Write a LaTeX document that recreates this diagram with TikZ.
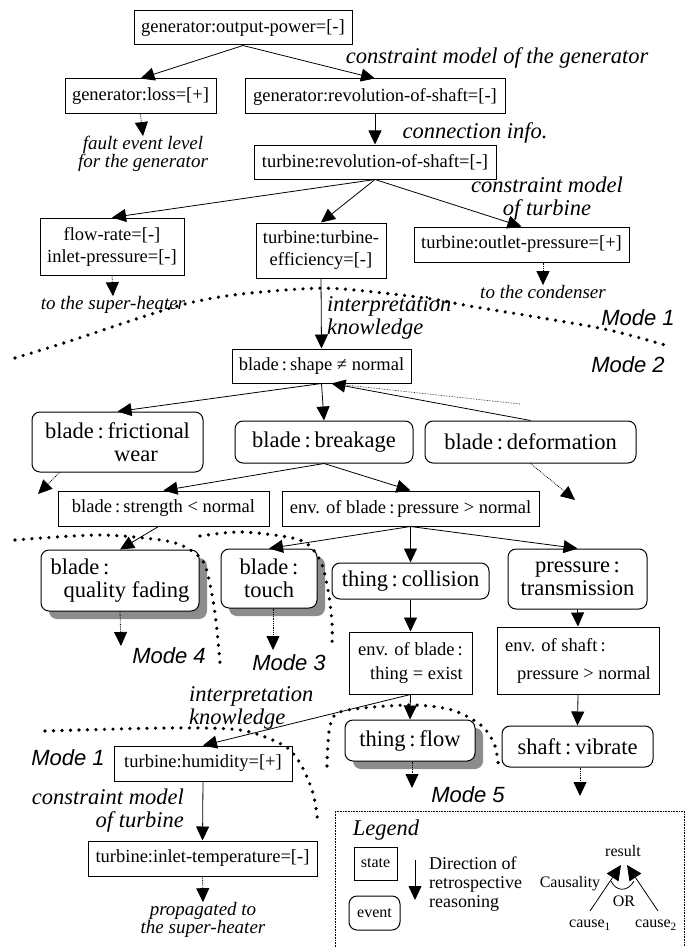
\documentclass[tikz,border=0pt]{standalone}
\usepackage{fontspec}
\setmainfont{Liberation Serif}
\newfontfamily\arialfont{Liberation Sans}
\usetikzlibrary{arrows.meta,shadows}

\newcommand{\statefont}{\fontsize{18.5}{22}\selectfont}
\newcommand{\eventfont}{\fontsize{22.5}{23}\selectfont}
\newcommand{\notefont}{\fontsize{19}{18}\selectfont\itshape}
\newcommand{\bignotefont}{\fontsize{22.5}{23}\selectfont\itshape}
\newcommand{\modefont}{\arialfont\itshape\fontsize{22}{24}\selectfont}
\newcommand{\legfont}{\fontsize{16}{18}\selectfont}

\tikzset{
  statebox/.style={draw, line width=1pt, fill=white, inner sep=0pt, align=center, font=\statefont},
  eventbox/.style={statebox, rounded corners=8pt, font=\eventfont},
  wh/.style 2 args={minimum width=#1pt, minimum height=#2pt},
  shadowed/.style={drop shadow={shadow xshift=8pt, shadow yshift=-8pt, fill=black!45, opacity=1}},
  reason/.style={-{Triangle[length=14pt,width=13pt]}, line width=0.8pt},
  hint/.style={reason, densely dotted},
  note/.style={font=\notefont, align=center, inner sep=0pt},
  bignote/.style={font=\bignotefont, align=center, inner sep=0pt},
  modelabel/.style={font=\modefont, inner sep=0pt},
  boundary/.style={line width=3.6pt, line cap=round, dash pattern=on 0pt off 8.5pt},
}

\begin{document}
\begin{tikzpicture}[x=1pt,y=-1pt]
  \useasboundingbox (0,0) rectangle (685,947);

  % generator and turbine states
  \node[statebox, wh={218}{34}] (genout) at (243,28) {generator:output-power=[-]};
  \node[statebox, wh={151}{35}] (genloss) at (140.5,96.5) {generator:loss=[+]};
  \node[statebox, wh={260}{35}] (genrev) at (375,96.5) {generator:revolution-of-shaft=[-]};
  \node[statebox, wh={242}{34}] (turbrev) at (375,162) {turbine:revolution-of-shaft=[-]};
  \node[statebox, wh={144}{57}] (flow) at (112,246.5) {flow-rate=[-]\\inlet-pressure=[-]};
  \node[statebox, wh={130}{55}] (turbeff) at (321,250.5) {turbine:turbine-\\efficiency=[-]};
  \node[statebox, wh={215}{35}] (outlet) at (521.5,244.5) {turbine:outlet-pressure=[+]};
  \node[statebox, wh={179}{34}] (bladeshape) at (321.5,366) {blade\,:\,shape ≠ normal};

  % blade events
  \node[eventbox, wh={171}{60}, align=left] (wear) at (117.5,442) {blade\,:\,frictional\\\hspace*{69pt}wear};
  \node[eventbox, wh={178}{42}] (breakage) at (324,442) {blade\,:\,breakage};
  \node[eventbox, wh={211}{42}] (deformation) at (530.5,442) {blade\,:\,deformation};
  \node[statebox, wh={211}{35}] (strength) at (163.5,508.5) {blade\,:\,strength < normal};
  \node[statebox, wh={257}{35}] (envpress) at (410.5,508.5) {env. of blade\,:\,pressure > normal};
  \node[eventbox, shadowed, wh={158}{61}, align=left] (quality) at (120,580.5) {blade\,:\\\hspace*{13pt}quality fading};
  \node[eventbox, shadowed, wh={96}{59}] (touch) at (269,578.5) {blade\,:\\touch};
  \node[eventbox, wh={157}{36}] (collision) at (410.5,581) {thing\,:\,collision};
  \node[eventbox, wh={139}{60}] (transmission) at (577.5,579) {pressure\,:\\transmission};
  \node[statebox, wh={123}{62}, align=right] (envthing) at (410.5,663) {env. of blade\,:\\[2pt]thing = exist};
  \node[statebox, wh={162}{67}, align=left] (envshaft) at (578,660.5) {env. of shaft\,:\\[6pt]\hspace*{12pt}pressure > normal};
  \node[eventbox, shadowed, wh={130}{41}] (thingflow) at (410,740.5) {thing\,:\,flow};
  \node[eventbox, wh={151}{41}] (vibrate) at (577.5,746.5) {shaft\,:\,vibrate};
  \node[statebox, wh={178}{35}] (humidity) at (203,763.5) {turbine:humidity=[+]};
  \node[statebox, wh={229}{35}] (inlettemp) at (202.5,858.5) {turbine:inlet-temperature=[-]};

  % annotations
  \node[bignote] (genmodel) at (497,58) {constraint model of the generator};
  \node[note] (faultnote) at (143,154) {fault event level\\for the generator};
  \node[bignote] (conninfo) at (475,133) {connection info.};
  \node[bignote] (turbmodel) at (547,199) {constraint model\\of turbine};
  \node[note] (heaternote) at (113,305) {to the super-heater};
  \node[note] (condensernote) at (543,292) {to the condenser};
  \node[bignote, align=left, anchor=west] (interp) at (327,318) {interpretation\\knowledge};
  \node[bignote, align=left, anchor=west] (interplow) at (189,708) {interpretation\\knowledge};
  \node[bignote, align=right, anchor=east] (turbmodellow) at (184,811) {constraint model\\of turbine};
  \node[note] (propnote) at (203,920) {propagated to\\the super-heater};

  \node[modelabel] (modeA) at (638,318) {Mode 1};
  \node[modelabel] (modeB) at (628,365) {Mode 2};
  \node[modelabel] (modeD) at (169,656) {Mode 4};
  \node[modelabel] (modeC) at (289,663) {Mode 3};
  \node[modelabel] (modeE) at (468,795) {Mode 5};
  \node[modelabel] (modeF) at (68,758) {Mode 1};

  % free ends
  \coordinate (wearend) at (38,494);
  \coordinate (deformend) at (575,500);
  \coordinate (qualityend) at (121,646);
  \coordinate (touchend) at (273,650);
  \coordinate (flowend) at (412,788);
  \coordinate (vibrateend) at (580,796);
  \coordinate (dotend) at (520,404);

  % retrospective reasoning
  \draw[reason] (genout.south) -- (genloss.north);
  \draw[reason] (genout.south) -- (genrev.north);
  \draw[reason] (genrev.south) -- (turbrev.north);
  \draw[reason] (turbrev.south) -- (flow.north);
  \draw[reason] (turbrev.south) -- (turbeff.north);
  \draw[reason] (turbrev.south) -- (outlet.north);
  \draw[reason] (turbeff.south) -- (bladeshape.north);
  \draw[reason] (bladeshape.south) -- (wear.north);
  \draw[reason] (bladeshape.south) -- (breakage.north);
  \draw[reason] (deformation.north) -- ([xshift=10pt]bladeshape.south);
  \draw[densely dotted, line width=0.6pt] ([xshift=10pt]bladeshape.south) -- (dotend);
  \draw[reason] (breakage.south) -- (strength.north);
  \draw[reason] (breakage.south) -- (envpress.north);
  \draw[reason] ([xshift=-5pt]strength.south) -- (quality.north);
  \draw[reason] (envpress.south) -- (touch.north);
  \draw[reason] (envpress.south) -- (collision.north);
  \draw[reason] (envpress.south) -- (transmission.north);
  \draw[reason] (collision.south) -- (envthing.north);
  \draw[reason] (transmission.south) -- (envshaft.north);
  \draw[reason] (envthing.south) -- (thingflow.north);
  \draw[reason] (envthing.south) -- (humidity.north);
  \draw[reason] (envshaft.south) -- (vibrate.north);
  \draw[reason] (humidity.south) -- (inlettemp.north);

  % propagation out of the picture
  \draw[hint] (genloss.south) -- (faultnote.north);
  \draw[hint] (flow.south) -- (heaternote.north);
  \draw[hint] (condensernote.north |- outlet.south) -- (condensernote.north);
  \draw[hint] ([xshift=28pt]wear.south west) -- (wearend);
  \draw[hint] (deformation.south) -- (deformend);
  \draw[hint] (quality.south) -- (qualityend);
  \draw[hint] (touchend |- touch.south) -- (touchend);
  \draw[hint] (flowend |- thingflow.south) -- (flowend);
  \draw[hint] (vibrateend |- vibrate.south) -- (vibrateend);
  \draw[hint] (inlettemp.south) -- (propnote.north);

  % mode boundaries
  \draw[boundary] plot[smooth] coordinates {(15,358) (67,342) (133,320) (185,304) (233,295) (300,289) (343,289) (425,298) (475,307) (542,318) (609,330) (665,345)};
  \draw[boundary] plot[smooth] coordinates {(15,540) (100,535) (167,541) (192,551) (205,565) (213,600) (217,630) (220,663)};
  \draw[boundary] plot[smooth] coordinates {(200,536) (243,532) (300,540) (320,560) (328,590) (332,623) (332,648)};
  \draw[boundary] plot[smooth] coordinates {(327,766) (330,726) (343,711) (409,705) (452,710) (482,726) (495,746) (499,771)};
  \draw[boundary] plot[smooth] coordinates {(45,731) (167,728) (240,730) (283,745) (300,763) (313,793) (318,823)};

  % legend
  \draw[densely dotted, line width=0.6pt] (335,947) -- (335,811) -- (684,811) -- (684,947);
  \node[bignote] (legtitle) at (386,830) {Legend};
  \node[statebox, wh={43}{33}, font=\legfont] (legstate) at (375.5,863.5) {state};
  \node[eventbox, wh={51}{34}, font=\legfont] (legevent) at (374.5,913) {event};
  \coordinate (dirtop) at (415,860);
  \coordinate (dirbot) at (415,900);
  \draw[reason] (dirtop) -- (dirbot);
  \node[font=\fontsize{18}{19}\selectfont, align=left, anchor=west, inner sep=0pt] (direction) at (429,884) {Direction of\\retrospective\\reasoning};
  \node[font=\legfont, inner sep=0pt] (result) at (623,851) {result};
  \node[font=\legfont, inner sep=0pt] (causality) at (570,884) {Causality};
  \node[font=\legfont, inner sep=0pt] (ornode) at (624,901) {OR};
  \node[font=\legfont, inner sep=0pt] (cause1) at (590,925) {cause\textsubscript{1}};
  \node[font=\legfont, inner sep=0pt] (cause2) at (656,925) {cause\textsubscript{2}};
  \coordinate (causeA) at (590,911);
  \coordinate (causeB) at (658,911);
  \coordinate (tipA) at (621,865);
  \coordinate (tipB) at (627,865);
  \draw[-{Triangle[length=15pt,width=14pt]}, line width=0.8pt] (causeA) -- (tipA);
  \draw[-{Triangle[length=15pt,width=14pt]}, line width=0.8pt] (causeB) -- (tipB);
  \draw[line width=0.8pt] (611,881) .. controls (616,892) and (628,892) .. (634,881);
\end{tikzpicture}
\end{document}
